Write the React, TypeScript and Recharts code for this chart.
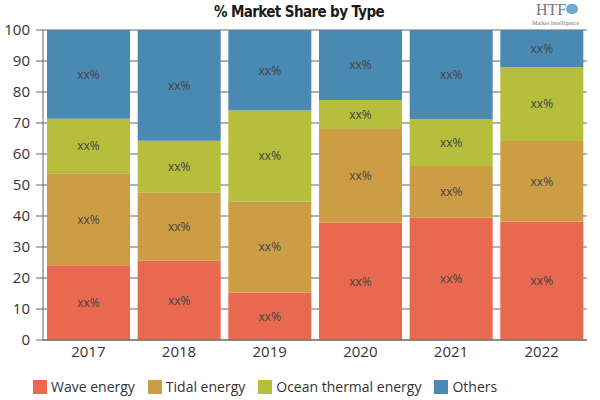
import { BarChart, Bar, XAxis, YAxis, CartesianGrid, LabelList } from "recharts";

const YEARS = ["2017", "2018", "2019", "2020", "2021", "2022"];
const WAVE = [24.1, 25.6, 15.3, 37.8, 39.4, 38.2];
const TIDAL = [29.7, 21.9, 29.3, 30.3, 16.7, 26.0];
const OCEAN = [17.6, 16.8, 29.4, 9.3, 15.2, 23.9];
const OTHERS = [28.6, 35.7, 26.0, 22.6, 28.7, 11.9];
const Y_TICKS = [0, 10, 20, 30, 40, 50, 60, 70, 80, 90, 100];

const SERIES = [
  { key: "wave", name: "Wave energy", color: "#E8694F" },
  { key: "tidal", name: "Tidal energy", color: "#CC9D45" },
  { key: "ocean", name: "Ocean thermal energy", color: "#B5BF3B" },
  { key: "others", name: "Others", color: "#4A89B1" },
];

const data = YEARS.map((year, i) => ({
  year,
  wave: WAVE[i],
  tidal: TIDAL[i],
  ocean: OCEAN[i],
  others: OTHERS[i],
}));

const FONT = "'Open Sans', sans-serif";

function LegendBox() {
  return (
    <div
      style={{
        position: "absolute",
        left: 33,
        top: 379,
        display: "flex",
        gap: 13,
        fontFamily: FONT,
        fontSize: 14,
        color: "#333",
        lineHeight: "16px",
      }}
    >
      {SERIES.map((s) => (
        <div key={s.key} style={{ display: "flex", alignItems: "center" }}>
          <span style={{ width: 14, height: 14, background: s.color, marginRight: 4, display: "inline-block" }} />
          {s.name}
        </div>
      ))}
    </div>
  );
}

export default function App() {
  return (
    <div style={{ position: "absolute", left: 0, top: 0, width: 600, height: 400, background: "#fff" }}>
      <div
        style={{
          position: "absolute",
          left: 0,
          width: 598,
          top: 3,
          textAlign: "center",
          fontFamily: "'DejaVu Sans Condensed', 'DejaVu Sans', sans-serif",
          fontWeight: 700,
          fontSize: 15,
          color: "#1a1a1a",
          letterSpacing: -0.6,
        }}
      >
        % Market Share by Type
      </div>
      <div style={{ position: "absolute", left: 536, top: 1, fontFamily: "'Liberation Serif', serif", fontSize: 16, color: "#777" }}>
        HTF
      </div>
      <div style={{ position: "absolute", left: 566, top: 4, width: 12, height: 10, borderRadius: 6, background: "#6fa8d4" }} />
      <div style={{ position: "absolute", left: 532, top: 20, fontFamily: "'Liberation Serif', serif", fontSize: 6, color: "#777" }}>
        Market Intelligence
      </div>
      <BarChart
        width={600}
        height={400}
        data={data}
        margin={{ top: 30, right: 13, left: 0, bottom: 35 }}
        barCategoryGap={4}
      >
        <CartesianGrid vertical={false} stroke="#666" />
        <XAxis
          dataKey="year"
          tickLine={false}
          tickSize={0}
          tickMargin={6}
          height={25}
          axisLine={{ stroke: "#666" }}
          tick={{ fontSize: 15, fill: "#333", fontFamily: FONT }}
        />
        <YAxis
          domain={[0, 100]}
          ticks={Y_TICKS}
          width={43}
          tickSize={7}
          tickMargin={6}
          interval={0}
          axisLine={{ stroke: "#666" }}
          tickLine={{ stroke: "#666" }}
          tick={{ fontSize: 15, fill: "#333", fontFamily: FONT }}
        />
        {SERIES.map((s) => (
          <Bar key={s.key} dataKey={s.key} name={s.name} stackId="a" fill={s.color} isAnimationActive={false}>
            <LabelList
              dataKey={s.key}
              position="center"
              formatter={() => "xx%"}
              style={{ fontSize: 12, fill: "#444", fontFamily: FONT }}
            />
          </Bar>
        ))}
      </BarChart>
      <LegendBox />
    </div>
  );
}
